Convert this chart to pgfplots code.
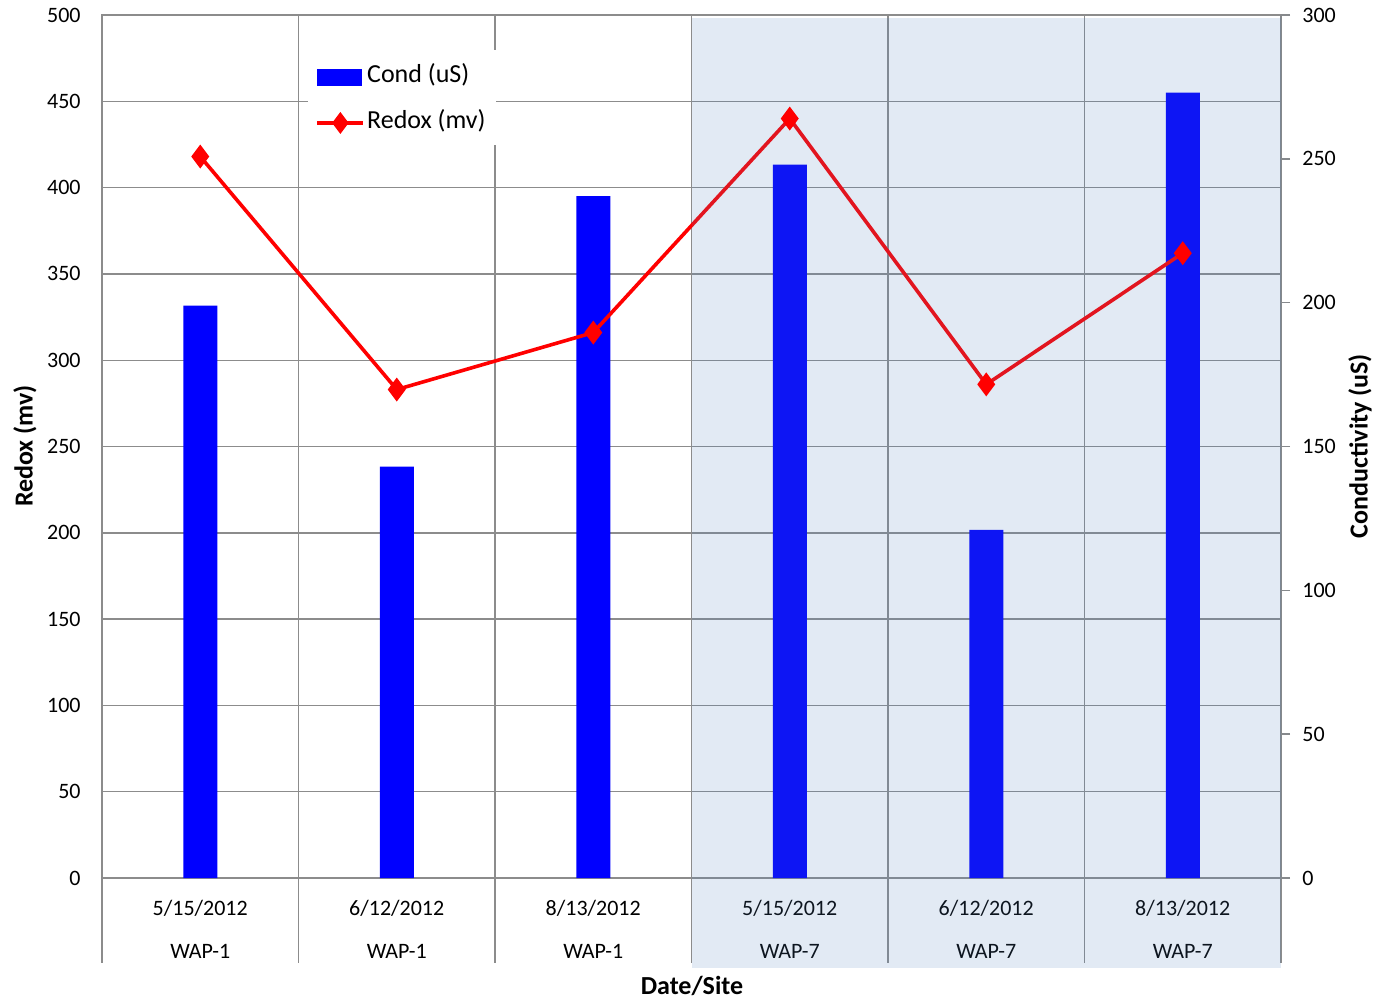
\documentclass[border=0pt]{standalone}
\usepackage{fontspec}
\setmainfont{Carlito}
\usepackage{pgfplots}
\usepackage{pgfplotstable}
\pgfplotsset{compat=1.18}
\definecolor{gridgray}{RGB}{140,140,140}
\definecolor{axgray}{RGB}{134,137,140}
\definecolor{accent}{RGB}{79,129,189}
\definecolor{barblue}{RGB}{0,0,255}
\definecolor{linered}{RGB}{255,0,0}

\pgfplotstableread{
x cond redox
0 199 418
1 143 283
2 237 316
3 248 440
4 121 286
5 273 362
}\datatable

\begin{document}
\begin{tikzpicture}
\path[use as bounding box] (0,0) rectangle (689pt,501.5pt);
\pgfplotsset{common/.style={
  scale only axis, width=589.5pt, height=431.5pt,
  at={(51pt,62.5pt)}, anchor=south west,
  xmin=-0.5, xmax=5.5,
  /pgf/number format/assume math mode=true,
  tick label style={font=\fontsize{11}{13}\selectfont},
  label style={font=\fontsize{13}{15}\selectfont\bfseries},
}}
% Axis A: grid, left ticks, x labels
\begin{axis}[common,
  clip=false,
  ymin=0, ymax=500, ytick={0,50,...,500},
  ymajorgrids, grid style={gridgray, line width=0.7pt},
  xtick={0,1,2,3,4,5},
  xticklabels={{5/15/2012\\WAP-1},{6/12/2012\\WAP-1},{8/13/2012\\WAP-1},{5/15/2012\\WAP-7},{6/12/2012\\WAP-7},{8/13/2012\\WAP-7}},
  xticklabel style={align=center, font=\fontsize{11}{21.5}\selectfont, inner sep=0pt, yshift=-11pt},
  minor xtick={0.5,1.5,2.5,3.5,4.5}, xminorgrids,
  minor grid style={gridgray, line width=0.7pt},
  major tick length=0pt, minor tick length=0pt,
  axis line style={gridgray, line width=0.8pt},
  yticklabel style={inner sep=0pt, anchor=east, xshift=-10.5pt},
  ylabel={Redox (mv)},
  ylabel style={at={(axis description cs:-0.0653,0.5006)}, anchor=center},
  xlabel={Date/Site},
  xlabel style={at={(axis description cs:0.5004,-0.1251)}, anchor=center},
]
\pgfplotsinvokeforeach{-0.5,0.5,1.5,2.5,3.5,4.5,5.5}{
  \draw[gridgray, line width=0.8pt] (axis cs:#1,0) -- (axis cs:#1,-49.5);
}
\end{axis}
% Axis B: conductivity bars, right axis
\begin{axis}[common,
  ybar, bar width=17pt,
  ymin=0, ymax=300, ytick={0,50,...,300},
  axis y line*=right, axis x line=none,
  axis line style={axgray, line width=0.8pt},
  ytick style={axgray, line width=0.8pt},
  tick align=outside, major tick length=4.5pt,
  yticklabel style={inner sep=0pt, anchor=west, xshift=6pt},
  ylabel={Conductivity (uS)},
  ylabel style={at={(axis description cs:1.067,0.5006)}, anchor=center},
]
\addplot[fill=barblue, draw=none] table[x=x, y=cond] {\datatable};
\end{axis}
% Axis C: redox line, legend, overlay
\begin{axis}[common,
  ymin=0, ymax=500, hide axis, clip=false,
  legend style={at={(axis description cs:0.1808,0.9016)}, anchor=west,
    fill=none, draw=none, inner sep=0pt, row sep=10pt, column sep=1pt,
    font=\fontsize{13}{15}\selectfont,
    nodes={inner sep=0pt, text height=9.5pt, text depth=3.5pt}},
  legend cell align=left,
]
\fill[white] (axis description cs:0.1747,0.959) rectangle (axis description cs:0.3342,0.8494);
\addlegendimage{legend image code/.code={\fill[barblue] (0pt,-4pt) rectangle (22pt,4pt);}}
\addlegendentry{Cond (uS)}
\addplot[linered, line width=1.8pt, mark=diamond*, mark size=4.5pt,
  mark options={solid, fill=linered},
  legend image code/.code={\draw[mark repeat=2,mark phase=2, mark size=4pt] plot coordinates {(0pt,0pt) (11.5pt,0pt) (23pt,0pt)};}]
  table[x=x, y=redox] {\datatable};
\addlegendentry{Redox (mv)}
\fill[accent, fill opacity=0.165] (axis cs:2.5,-52.1) rectangle (axis cs:5.5,498.3);
\end{axis}
\end{tikzpicture}
\end{document}
